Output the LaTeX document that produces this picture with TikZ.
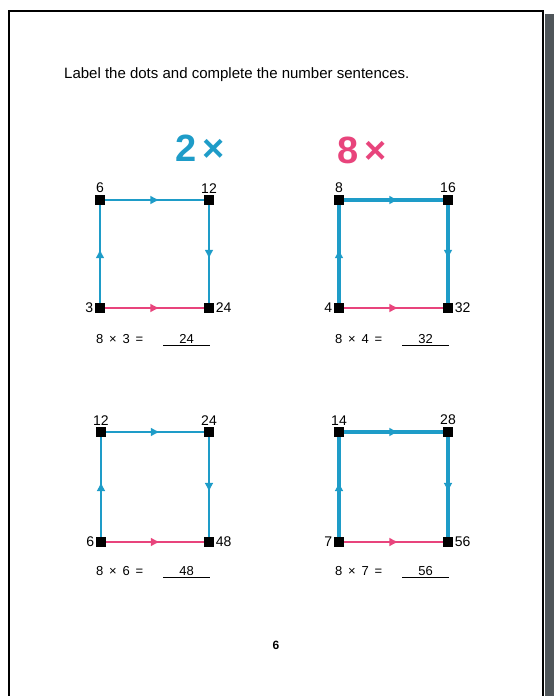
\documentclass[tikz,border=0pt]{standalone}
\usepackage{fontspec}
\setmainfont{Liberation Sans}
\usetikzlibrary{arrows.meta,decorations.markings}
\definecolor{skyblue}{HTML}{1E9CC8}
\definecolor{hotpink}{HTML}{E8447C}
\definecolor{shadowgray}{HTML}{50565A}

\begin{document}
\begin{tikzpicture}[x=1pt, y=-1pt,
  dot/.style={fill=black, minimum size=10pt, inner sep=0pt, label distance=0pt},
  every label/.style={font=\fontsize{14}{14}\selectfont, inner sep=1.5pt},
  midarrow/.style={postaction={decorate}, decoration={markings,
    mark=at position 0.55 with {\arrow{Latex[length=9pt, width=9pt]}}}},
  thinblue/.style={skyblue, line width=2.6pt, midarrow},
  thickblue/.style={skyblue, line width=3.6pt, midarrow},
  thickpink/.style={hotpink, line width=2.8pt, midarrow},
  thinpink/.style={hotpink, line width=1.8pt, midarrow},
  sentence/.style={anchor=west, inner sep=0pt, font=\fontsize{13}{13}\selectfont},
  answer/.style={minimum width=47pt, inner sep=1.5pt, font=\fontsize{13}{13}\selectfont},
  bigsign/.style={font=\fontsize{38}{38}\selectfont\bfseries}]
\useasboundingbox (0,0) rectangle (554,696);
% page
\fill[shadowgray] (545,14) rectangle (554,696);
\draw[line width=1.8pt] (9,696) -- (9,11) -- (543,11) -- (543,696);
\node[anchor=west, inner sep=0pt, font=\fontsize{15}{15}\selectfont] (title) at (64,75) {Label the dots and complete the number sentences.};
\node[bigsign, skyblue] (twotimes) at (200,148) {2\,×};
\node[bigsign, hotpink] (eighttimes) at (362,150) {8\,×};
% 2 x 3
\node[dot, label={above:6}] (tl1) at (100,200) {};
\node[dot, label={above:12}] (tr1) at (209,200) {};
\node[dot, label={left:3}] (bl1) at (100,308) {};
\node[dot, label={right:24}] (br1) at (209,308) {};
\draw[thinblue] (bl1) -- (tl1);
\draw[thinblue] (tl1) -- (tr1);
\draw[thinblue] (tr1) -- (br1);
\draw[thickpink] (bl1) -- (br1);
\node[sentence] (eq1) at (96,339) {8 \,×\, 3 \,=};
\node[answer, anchor=south west] (ans1) at (163,345) {24};
\draw[line width=0.9pt] (ans1.south west) -- (ans1.south east);
% 8 x 4
\node[dot, label={above:8}] (tl2) at (339,200) {};
\node[dot, label={above:16}] (tr2) at (448,200) {};
\node[dot, label={left:4}] (bl2) at (339,308) {};
\node[dot, label={right:32}] (br2) at (448,308) {};
\draw[thickblue] (bl2) -- (tl2);
\draw[thickblue] (tl2) -- (tr2);
\draw[thickblue] (tr2) -- (br2);
\draw[thickpink] (bl2) -- (br2);
\node[sentence] (eq2) at (335,339) {8 \,×\, 4 \,=};
\node[answer, anchor=south west] (ans2) at (402,345) {32};
\draw[line width=0.9pt] (ans2.south west) -- (ans2.south east);
% 8 x 6
\node[dot, label={above:12}] (tl3) at (101,432) {};
\node[dot, label={above:24}] (tr3) at (209,432) {};
\node[dot, label={left:6}] (bl3) at (101,542) {};
\node[dot, label={right:48}] (br3) at (209,542) {};
\draw[thinblue] (bl3) -- (tl3);
\draw[thinblue] (tl3) -- (tr3);
\draw[thinblue] (tr3) -- (br3);
\draw[thinpink] (bl3) -- (br3);
\node[sentence] (eq3) at (96,571) {8 \,×\, 6 \,=};
\node[answer, anchor=south west] (ans3) at (163,577) {48};
\draw[line width=0.9pt] (ans3.south west) -- (ans3.south east);
% 8 x 7
\node[dot, label={above:14}] (tl4) at (339,432) {};
\node[dot, label={above:28}] (tr4) at (448,432) {};
\node[dot, label={left:7}] (bl4) at (339,542) {};
\node[dot, label={right:56}] (br4) at (448,542) {};
\draw[thickblue] (bl4) -- (tl4);
\draw[thickblue] (tl4) -- (tr4);
\draw[thickblue] (tr4) -- (br4);
\draw[thinpink] (bl4) -- (br4);
\node[sentence] (eq4) at (335,571) {8 \,×\, 7 \,=};
\node[answer, anchor=south west] (ans4) at (402,577) {56};
\draw[line width=0.9pt] (ans4.south west) -- (ans4.south east);
% page number
\node[font=\fontsize{12}{12}\selectfont\bfseries] (pagenum) at (276,645) {6};
\end{tikzpicture}
\end{document}
